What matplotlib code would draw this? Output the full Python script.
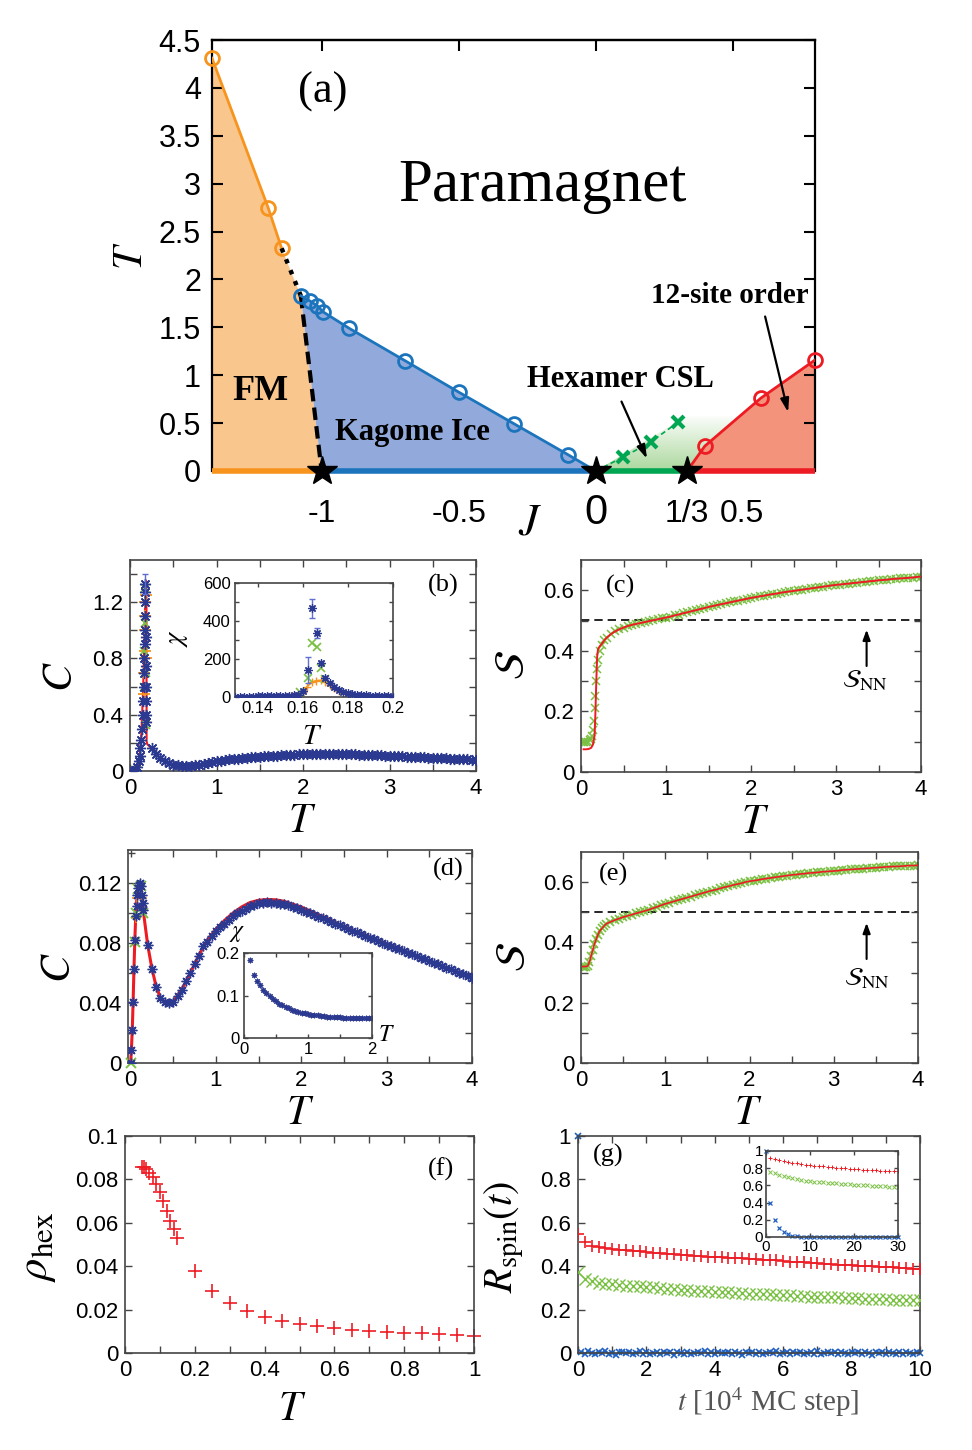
import numpy as np
import matplotlib
matplotlib.use('Agg')
import matplotlib.pyplot as plt
from matplotlib.patches import Polygon
from matplotlib.colors import to_rgb
import matplotlib.transforms as mtransforms

plt.rcParams['font.family'] = ['Liberation Sans', 'DejaVu Sans']
plt.rcParams['mathtext.fontset'] = 'stix'
SERIF = ['Liberation Serif', 'DejaVu Serif']

# ---------------- data: panel (a) phase diagram ----------------
J_fm = [-1.40, -1.195, -1.146]
T_fm = [4.31, 2.748, 2.325]
J_ki = [-1.076, -1.044, -1.016, -0.995, -0.899, -0.696, -0.499, -0.298, -0.101]
T_ki = [1.829, 1.777, 1.725, 1.662, 1.489, 1.152, 0.822, 0.493, 0.170]
J_hex = [0.101, 0.200, 0.301]
T_hex = [0.146, 0.302, 0.510]
J_12 = [0.398, 0.602, 0.800]
T_12 = [0.260, 0.760, 1.159]
J_star = [-1.0, 0.0, 1.0 / 3.0]
J_ticks = [-1, -0.5, 0, 1.0 / 3.0, 0.5]
J_ticklabels = ['-1', '-0.5', '0', '1/3', '0.5']

# ---------------- data: panel (b) specific heat ----------------
Tb_lo = [0.02, 0.04, 0.06, 0.08, 0.10, 0.11, 0.12, 0.13, 0.14, 0.15, 0.155, 0.16, 0.165, 0.165,
         0.17, 0.17, 0.17, 0.175, 0.175, 0.175, 0.18, 0.18, 0.18, 0.185, 0.185, 0.19]
Cb_lo = [0.0, 0.0, 0.005, 0.03, 0.07, 0.11, 0.16, 0.22, 0.30, 0.40, 0.50, 0.60, 0.70, 0.80,
         0.90, 1.00, 1.10, 1.20, 1.27, 1.33, 0.95, 0.75, 0.60, 0.50, 0.40, 0.35]
Tb_hi = np.round(np.arange(0.25, 4.001, 0.05), 2)
Cb_hi = [0.160, 0.120, 0.090, 0.068, 0.054, 0.046, 0.041, 0.039, 0.038, 0.039, 0.041, 0.044, 0.050,
         0.057, 0.064, 0.070,
         0.074, 0.078, 0.082, 0.085, 0.088, 0.091, 0.094, 0.097, 0.099, 0.101,
         0.104, 0.106, 0.108, 0.110, 0.112, 0.114, 0.115, 0.117, 0.118, 0.119,
         0.120, 0.121, 0.121, 0.122, 0.122, 0.122, 0.122, 0.121, 0.121, 0.120,
         0.119, 0.118, 0.117, 0.116, 0.115, 0.114, 0.113, 0.111, 0.110, 0.109,
         0.107, 0.106, 0.104, 0.103, 0.101, 0.100, 0.098, 0.097, 0.095, 0.094,
         0.093, 0.091, 0.090, 0.088, 0.087, 0.085, 0.084, 0.082, 0.081, 0.080]
Tb_red_lo = [0.06, 0.09, 0.11, 0.13, 0.15, 0.165, 0.175, 0.185, 0.19, 0.192, 0.20]
Cb_red_lo = [0.0, 0.03, 0.10, 0.25, 0.55, 0.90, 1.20, 1.35, 1.35, 0.21, 0.19]
Tb_or = [0.16, 0.165, 0.17, 0.17, 0.175, 0.175, 0.18, 0.18]
Cb_or = [0.55, 0.70, 0.85, 1.00, 1.10, 1.20, 1.25, 0.80]
Tb_gr = [0.0, 0.02, 0.04, 0.06, 0.08, 0.16, 0.165, 0.17, 0.175, 0.18, 0.185]
Cb_gr = [0.0, 0.0, 0.0, 0.0, 0.01, 0.60, 0.85, 1.05, 1.30, 0.70, 0.33]
Tb_peak, Cb_peak, Cb_peak_err = 0.175, 1.33, 0.07

# inset (b): susceptibility
Tbi_blue = [0.130, 0.132, 0.134, 0.136, 0.138, 0.140, 0.142, 0.144, 0.146, 0.148, 0.150, 0.152,
            0.154, 0.156, 0.158, 0.160, 0.1622, 0.164, 0.1663, 0.168, 0.170, 0.172, 0.174, 0.176,
            0.178, 0.180, 0.182, 0.184, 0.186, 0.188, 0.190, 0.192, 0.194, 0.196, 0.198, 0.200]
Xbi_blue = [2, 2, 2, 2, 2, 3, 3, 3, 3, 4, 4, 5, 6, 8, 12, 32, 142, 468, 338, 179, 102, 72, 52, 38,
            28, 21, 16, 12, 10, 8, 6, 5, 4, 3, 3, 2]
Xbi_blue_err = [0, 0, 0, 0, 0, 0, 0, 0, 0, 0, 0, 0, 0, 1, 2, 6, 70, 50, 25, 12, 8, 5, 3, 2,
                2, 1, 1, 1, 0, 0, 0, 0, 0, 0, 0, 0]
Tbi_gr = [0.159, 0.1622, 0.164, 0.1663, 0.168, 0.170]
Xbi_gr = [25, 100, 284, 265, 153, 95]
Tbi_or = [0.154, 0.156, 0.158, 0.160, 0.162, 0.164, 0.166, 0.168, 0.170, 0.172, 0.174, 0.176, 0.178]
Xbi_or = [3, 5, 10, 25, 55, 78, 86, 87, 80, 62, 45, 32, 22]

# ---------------- data: panel (c) entropy ----------------
Tc_gr_lo = [0.02, 0.04, 0.06, 0.08, 0.10, 0.12, 0.13, 0.14, 0.15, 0.16, 0.17, 0.18, 0.19, 0.20,
            0.22, 0.25, 0.275]
Sc_gr_lo = [0.100, 0.100, 0.100, 0.100, 0.105, 0.110, 0.120, 0.140, 0.170, 0.210, 0.250, 0.300,
            0.340, 0.370, 0.400, 0.420, 0.435]
Tc_red_lo = [0.03, 0.06, 0.09, 0.12, 0.14, 0.16, 0.17, 0.18, 0.19, 0.20, 0.22, 0.25, 0.275]
Sc_red_lo = [0.075, 0.075, 0.076, 0.080, 0.090, 0.120, 0.200, 0.300, 0.380, 0.405, 0.415, 0.425, 0.435]
Tc_hi = np.round(np.arange(0.30, 4.001, 0.05), 2)
Sc_hi = [0.443, 0.455, 0.464, 0.471, 0.477, 0.482, 0.486, 0.489, 0.492, 0.495, 0.498, 0.501, 0.504,
         0.507, 0.510,
         0.513, 0.517, 0.520, 0.524, 0.527, 0.531, 0.534, 0.538, 0.541, 0.545,
         0.548, 0.551, 0.554, 0.557, 0.560, 0.563, 0.566, 0.569, 0.572, 0.575,
         0.577, 0.580, 0.582, 0.585, 0.587, 0.589, 0.592, 0.594, 0.596, 0.598,
         0.600, 0.602, 0.604, 0.606, 0.608, 0.610, 0.612, 0.614, 0.616, 0.618,
         0.619, 0.621, 0.622, 0.624, 0.625, 0.627, 0.628, 0.630, 0.631, 0.633,
         0.634, 0.635, 0.637, 0.638, 0.639, 0.640, 0.641, 0.642, 0.644, 0.645]
S_NN = 0.502

# ---------------- data: panel (d) specific heat ----------------
Td_lo = [0.0, 0.01, 0.02, 0.03, 0.04, 0.05, 0.06, 0.07, 0.08, 0.09, 0.10, 0.11, 0.12, 0.13, 0.14, 0.15,
         0.20, 0.25, 0.30, 0.35, 0.40, 0.45, 0.50, 0.55, 0.60, 0.65, 0.70, 0.75, 0.80, 0.85]
Cd_lo = [0.0, 0.009, 0.022, 0.041, 0.063, 0.082, 0.098, 0.105, 0.112, 0.117, 0.119, 0.120, 0.118,
         0.112, 0.107, 0.102,
         0.079, 0.063, 0.051, 0.0435, 0.0405, 0.040, 0.041, 0.0444, 0.049, 0.0544, 0.060, 0.066,
         0.0715, 0.0778]
Td_hi = np.round(np.arange(0.90, 4.001, 0.05), 2)
Cd_hi = [0.081, 0.085, 0.088,
         0.0905, 0.093, 0.0955, 0.098, 0.100, 0.1015, 0.103, 0.1045, 0.1055, 0.1065,
         0.107, 0.1072, 0.107, 0.1067, 0.1063, 0.1058, 0.1052, 0.1043, 0.1032, 0.1020,
         0.1009, 0.0998, 0.0987, 0.0976, 0.0965, 0.0953, 0.0942, 0.0930, 0.0918, 0.0907,
         0.0895, 0.0883, 0.0871, 0.0860, 0.0848, 0.0836, 0.0825, 0.0813, 0.0802, 0.0790,
         0.0779, 0.0768, 0.0757, 0.0746, 0.0735, 0.0724, 0.0713, 0.0702, 0.0691, 0.0680,
         0.0669, 0.0658, 0.0647, 0.0636, 0.0625, 0.0614, 0.0603, 0.0592, 0.0581, 0.0570]
Td_red = [0.0, 0.01, 0.02, 0.03, 0.04, 0.05, 0.06, 0.07, 0.08, 0.09, 0.10, 0.11, 0.12, 0.13, 0.14,
          0.15, 0.175, 0.20, 0.25, 0.30, 0.35, 0.40, 0.45, 0.50, 0.60, 0.70, 0.80, 0.90, 1.00, 1.10,
          1.20, 1.30, 1.40, 1.50, 1.60, 1.70, 1.80, 2.00, 2.20, 2.50, 3.00, 3.50, 4.00]
Cd_red = [0.0, 0.009, 0.022, 0.041, 0.063, 0.082, 0.097, 0.107, 0.113, 0.117, 0.119, 0.119, 0.117,
          0.113, 0.107, 0.101, 0.090, 0.079, 0.063, 0.051, 0.0435, 0.0405, 0.040, 0.041, 0.049,
          0.060, 0.072, 0.082, 0.089, 0.095, 0.100, 0.104, 0.107, 0.1085, 0.109, 0.1088, 0.1078,
          0.104, 0.099, 0.091, 0.0795, 0.068, 0.057]
Td_gr = [0.0, 0.05, 0.06, 0.09, 0.12, 0.14]
Cd_gr = [0.0, 0.081, 0.100, 0.116, 0.118, 0.100]
Td_or = [0.06, 0.08, 0.10, 0.13]
Cd_or = [0.097, 0.110, 0.118, 0.110]
# inset (d)
Tdi = [0.09, 0.15, 0.20, 0.25, 0.30, 0.35, 0.40, 0.45, 0.50, 0.55, 0.60, 0.65, 0.70, 0.75, 0.80,
       0.85, 0.90, 0.95, 1.00, 1.05, 1.10, 1.15, 1.20, 1.25, 1.30, 1.35, 1.40, 1.45, 1.50, 1.55,
       1.60, 1.65, 1.70, 1.75, 1.80, 1.85, 1.90, 1.95, 2.00]
Xdi = [0.184, 0.148, 0.134, 0.124, 0.114, 0.105, 0.098, 0.091, 0.086, 0.081, 0.077, 0.073, 0.070,
       0.067, 0.064, 0.062, 0.060, 0.058, 0.0565, 0.055, 0.054, 0.053, 0.052, 0.051, 0.0505, 0.050,
       0.0495, 0.049, 0.0485, 0.048, 0.0475, 0.047, 0.0468, 0.0466, 0.0464, 0.0462, 0.046, 0.046,
       0.046]

# ---------------- data: panel (e) entropy ----------------
Te_lo = [0.02, 0.04, 0.06, 0.08, 0.10, 0.12, 0.14, 0.16, 0.18, 0.20, 0.22, 0.25, 0.275]
Se_lo = [0.320, 0.320, 0.320, 0.322, 0.335, 0.355, 0.375, 0.395, 0.410, 0.425, 0.437, 0.447, 0.455]
Te_hi = np.round(np.arange(0.30, 4.001, 0.05), 2)
Se_hi = [0.462, 0.468, 0.474, 0.479, 0.484, 0.488, 0.492, 0.496, 0.500, 0.504, 0.508, 0.513, 0.518,
         0.523, 0.528,
         0.532, 0.536, 0.540, 0.544, 0.548, 0.552, 0.556, 0.560, 0.564, 0.568,
         0.572, 0.575, 0.579, 0.583, 0.586, 0.590, 0.593, 0.596, 0.600, 0.603,
         0.605, 0.607, 0.610, 0.612, 0.614, 0.616, 0.618, 0.620, 0.622, 0.624,
         0.625, 0.627, 0.628, 0.630, 0.631, 0.632, 0.634, 0.635, 0.636, 0.637,
         0.638, 0.640, 0.641, 0.642, 0.643, 0.644, 0.645, 0.646, 0.647, 0.648,
         0.649, 0.650, 0.651, 0.652, 0.652, 0.653, 0.654, 0.655, 0.655, 0.656]

# ---------------- data: panel (f) hexamer density ----------------
T_f = [0.05, 0.055, 0.06, 0.07, 0.08, 0.09, 0.10, 0.11, 0.12, 0.13, 0.14, 0.15, 0.20, 0.25, 0.30,
       0.35, 0.40, 0.45, 0.50, 0.55, 0.60, 0.65, 0.70, 0.75, 0.80, 0.85, 0.90, 0.95, 1.00]
rho_f = [0.0858, 0.0855, 0.0846, 0.083, 0.081, 0.078, 0.074, 0.070, 0.0655, 0.061, 0.057, 0.0528,
         0.0378, 0.0286, 0.0231, 0.0194, 0.0168, 0.0149, 0.0135, 0.0123, 0.0115, 0.0108, 0.0102,
         0.0099, 0.0094, 0.0091, 0.0086, 0.0082, 0.0079]

# ---------------- data: panel (g) autocorrelation ----------------
t_g = np.round(np.arange(0, 10.001, 0.2), 1)
R_red = [0.550, 0.510, 0.495, 0.487, 0.482, 0.478, 0.476, 0.474, 0.471, 0.469,
         0.466, 0.463, 0.461, 0.458, 0.455, 0.452, 0.450, 0.449, 0.446, 0.444,
         0.443, 0.441, 0.438, 0.437, 0.437, 0.435, 0.432, 0.430, 0.428, 0.428,
         0.425, 0.421, 0.419, 0.419, 0.417, 0.415, 0.411, 0.408, 0.407, 0.406,
         0.404, 0.402, 0.400, 0.399, 0.398, 0.397, 0.395, 0.393, 0.391, 0.389,
         0.386]
R_green = [0.374, 0.343, 0.330, 0.322, 0.318, 0.316, 0.314, 0.311, 0.308, 0.307,
           0.305, 0.302, 0.300, 0.297, 0.295, 0.292, 0.290, 0.288, 0.286, 0.284,
           0.282, 0.281, 0.279, 0.278, 0.276, 0.274, 0.273, 0.271, 0.270, 0.268,
           0.266, 0.265, 0.263, 0.262, 0.260, 0.258, 0.257, 0.257, 0.256, 0.255,
           0.254, 0.252, 0.251, 0.250, 0.249, 0.248, 0.246, 0.245, 0.244, 0.244,
           0.243]
t_gb = np.round(np.arange(0, 10.001, 0.1), 1)
R_blue = [1.0,
          0.005, -0.003, 0.007, 0.001, -0.006, 0.004, -0.002, 0.008, -0.004, 0.002,
          -0.007, 0.003, 0.006, -0.001, 0.004, -0.005, 0.001, 0.007, -0.003, 0.005,
          -0.006, 0.002, 0.004, -0.004, 0.006, -0.002, 0.003, -0.007, 0.005, 0.001,
          -0.003, 0.006, -0.005, 0.002, 0.004, -0.001, 0.007, -0.004, 0.003, -0.006,
          0.005, 0.001, -0.002, 0.006, -0.005, 0.003, 0.002, -0.007, 0.004, -0.001,
          0.006, -0.003, 0.005, -0.006, 0.002, 0.004, -0.002, 0.007, -0.005, 0.001,
          0.003, -0.004, 0.006, -0.001, 0.005, -0.006, 0.002, 0.004, -0.003, 0.007,
          -0.005, 0.001, 0.006, -0.002, 0.003, -0.006, 0.005, 0.002, -0.004, 0.004,
          -0.001, 0.006, -0.005, 0.003, 0.001, -0.007, 0.005, -0.002, 0.004, -0.004,
          0.006, 0.002, -0.003, 0.005, -0.006, 0.003, 0.001, -0.004, 0.006, -0.002]
t_in = list(range(1, 31))
Ri_red = [0.920, 0.905, 0.893, 0.882, 0.872, 0.864, 0.856, 0.849, 0.842, 0.836,
          0.830, 0.825, 0.820, 0.815, 0.810, 0.806, 0.802, 0.798, 0.794, 0.790,
          0.787, 0.784, 0.781, 0.778, 0.775, 0.772, 0.769, 0.767, 0.764, 0.762]
Ri_green = [0.760, 0.740, 0.720, 0.705, 0.693, 0.683, 0.673, 0.664, 0.655, 0.647,
            0.643, 0.639, 0.635, 0.631, 0.627, 0.623, 0.620, 0.616, 0.613, 0.610,
            0.607, 0.604, 0.601, 0.598, 0.595, 0.592, 0.589, 0.586, 0.583, 0.580]
t_in_b = list(range(0, 31))
Ri_blue = [1.0, 0.39, 0.20, 0.11, 0.06, 0.03, 0.015, 0.008, 0.004, 0.002, 0.001,
           0.0, 0.0, 0.0, 0.0, 0.0, 0.0, 0.0, 0.0, 0.0, 0.0,
           0.0, 0.0, 0.0, 0.0, 0.0, 0.0, 0.0, 0.0, 0.0, 0.0]

# ---------------- colours ----------------
OR_L, OR_F = '#F7941D', '#F9C68E'
BL_L, BL_F = '#1C75BC', '#91AADB'
GR_L, GR_F = '#00A651', '#8FCB7C'
RD_L, RD_F = '#ED1C24', '#F4937B'
NAVY = '#2B3990'
LGREEN = '#7AC143'
ORANGE = '#F7941D'
RED = '#ED1C24'
GBLUE = '#1F5FBF'
SPINE = '#444444'
TFS = 16   # tick label size of the small panels
XLY = -0.235  # vertical position of the T labels of the small panels

W, H = 972, 1450
fig = plt.figure(figsize=(W / 100, H / 100), dpi=100)


def box(l, t, r, b):
    return [l / W, 1 - b / H, (r - l) / W, (b - t) / H]


def style(ax, xt, xl, yt, yl, fs=TFS, tl=5):
    ax.set_xticks(xt)
    ax.set_xticklabels(xl)
    ax.set_yticks(yt)
    ax.set_yticklabels(yl)
    ax.tick_params(direction='in', top=True, right=True, length=tl, width=1,
                   labelsize=fs, pad=5, color=SPINE)
    for s in ax.spines.values():
        s.set_color(SPINE)
        s.set_linewidth(1.2)


def lab(vals, every, fmt):
    out = []
    for i, v in enumerate(vals):
        out.append(fmt(v) if i % every == 0 else '')
    return out


def g(v):
    return ('%g' % v)


ARROW = dict(arrowstyle='-|>,head_length=0.6,head_width=0.22', color='k', lw=1.5,
             shrinkA=0, shrinkB=0)

# ================= panel (a) =================
ax = fig.add_axes(box(212, 40, 815, 471))
ax.set_xlim(-1.40, 0.80)
ax.set_ylim(0, 4.5)

fm_poly = [(J_fm[0], 0)] + list(zip(J_fm, T_fm)) + [(J_ki[0], T_ki[0]), (J_star[0], 0)]
ax.add_patch(Polygon(fm_poly, closed=True, fc=OR_F, ec='none', zorder=1))
ki_poly = [(J_star[0], 0)] + list(zip(J_ki, T_ki)) + [(J_star[1], 0)]
ax.add_patch(Polygon(ki_poly, closed=True, fc=BL_F, ec='none', zorder=1))

# green fading region for hexamer CSL
grad = np.zeros((100, 2, 4))
grad[..., :3] = to_rgb(GR_F)
grad[..., 3] = np.linspace(0.75, 0.0, 100)[:, None]
im = ax.imshow(grad, extent=[0.0, 0.5, 0.0, 0.6], origin='lower', aspect='auto',
               interpolation='bilinear', zorder=1)
clip = Polygon([(0, 0), (0.33, 0.57), (0.5, 0.57), (0.5, 0)], closed=True,
               transform=ax.transData, fc='none', ec='none')
im.set_clip_path(clip)

rd_poly = [(J_star[2], 0)] + list(zip(J_12, T_12)) + [(J_12[-1], 0)]
ax.add_patch(Polygon(rd_poly, closed=True, fc=RD_F, ec='none', zorder=1.5))

ax.set_xlim(-1.40, 0.80)
ax.set_ylim(0, 4.5)

ax.plot(J_fm, T_fm, '-', color=OR_L, lw=2, zorder=3)
ax.plot(J_fm, T_fm, 'o', mfc='none', mec=OR_L, ms=10, mew=2, zorder=4, clip_on=False)
ax.plot([J_fm[-1], J_ki[0]], [T_fm[-1], T_ki[0]], ':', color='k', lw=3.2, zorder=3)
ax.plot([J_ki[0], J_star[0]], [T_ki[0], 0], '--', color='k', lw=3, dashes=(3, 1.5), zorder=3)
ax.plot(J_ki + [J_star[1]], T_ki + [0], '-', color=BL_L, lw=2, zorder=3)
ax.plot(J_ki, T_ki, 'o', mfc='none', mec=BL_L, ms=10, mew=2, zorder=4)
ax.plot([J_star[1]] + J_hex, [0] + T_hex, '--', color=GR_L, lw=1.2, dashes=(3, 2), zorder=3)
ax.plot(J_hex, T_hex, 'x', color=GR_L, ms=9, mew=3, zorder=4)
ax.plot([J_star[2]] + J_12, [0] + T_12, '-', color=RD_L, lw=2, zorder=3)
ax.plot(J_12, T_12, 'o', mfc='none', mec=RD_L, ms=10, mew=2, zorder=4, clip_on=False)

# coloured baseline
ax.plot([-1.40, J_star[0]], [0, 0], color=OR_L, lw=4, zorder=5, clip_on=False, solid_capstyle='butt')
ax.plot([J_star[0], J_star[1]], [0, 0], color=BL_L, lw=4, zorder=5, clip_on=False, solid_capstyle='butt')
ax.plot([J_star[1], J_star[2]], [0, 0], color=GR_L, lw=4, zorder=5, clip_on=False, solid_capstyle='butt')
ax.plot([J_star[2], 0.80], [0, 0], color=RD_L, lw=4, zorder=5, clip_on=False, solid_capstyle='butt')
ax.plot(J_star, [0, 0, 0], '*', color='k', ms=22, zorder=6, clip_on=False)

ax.spines['bottom'].set_visible(False)
for s in ['top', 'left', 'right']:
    ax.spines[s].set_linewidth(1.6)
ax.set_yticks(np.arange(0, 4.51, 0.5))
ax.set_yticklabels([g(v) for v in np.arange(0, 4.51, 0.5)])
ax.set_xticks(J_ticks)
ax.set_xticklabels(J_ticklabels)
ax.tick_params(axis='y', direction='in', right=True, length=8, width=1.5, labelsize=22, pad=8)
ax.tick_params(axis='x', direction='in', length=0, labelsize=23, pad=20)
for t in ax.get_xticklabels():
    if t.get_text() == '0':
        t.set_fontsize(30)
        t.set_transform(t.get_transform() + mtransforms.ScaledTranslation(0, 4 / 72, fig.dpi_scale_trans))
    if t.get_text() == '0.5':
        t.set_transform(t.get_transform() + mtransforms.ScaledTranslation(9 / 100, 0, fig.dpi_scale_trans))
sec = ax.secondary_xaxis('top')
sec.set_xticks([-1, -0.5, 0, 0.5])
sec.tick_params(direction='in', length=8, width=1.5, labeltop=False)
sec.spines['top'].set_linewidth(1.6)

ax.set_ylabel(r'$T$', fontsize=30, rotation=90)
ax.yaxis.set_label_coords(-0.135, 0.50)
ax.yaxis.label.set_va('center')
ax.set_xlabel(r'$J$', fontsize=32)
ax.xaxis.set_label_coords(0.527, -0.12)
ax.xaxis.label.set_va('center')

ax.text(-0.996, 3.96, '(a)', fontsize=32, family=SERIF, ha='center', va='center')
ax.text(-0.195, 2.97, 'Paramagnet', fontsize=44, family=SERIF, ha='center', va='center')
ax.text(-1.223, 0.83, 'FM', fontsize=26, family=SERIF, weight='bold', ha='center', va='center')
ax.text(-0.667, 0.40, 'Kagome Ice', fontsize=22, family=SERIF, weight='bold', ha='center', va='center', zorder=7)
ax.text(0.089, 0.96, 'Hexamer CSL', fontsize=22, family=SERIF, weight='bold', ha='center', va='center')
ax.text(0.488, 1.83, '12-site order', fontsize=21, family=SERIF, weight='bold', ha='center', va='center')
ax.annotate('', xy=(0.187, 0.128), xytext=(0.094, 0.725),
            arrowprops=dict(arrowstyle='-|>,head_length=0.8,head_width=0.25', color='k', lw=1.6,
                            shrinkA=0, shrinkB=0), zorder=8)
ax.annotate('', xy=(0.702, 0.614), xytext=(0.618, 1.613),
            arrowprops=dict(arrowstyle='-|>,head_length=0.8,head_width=0.25', color='k', lw=1.6,
                            shrinkA=0, shrinkB=0), zorder=8)

AST = (8, 2, 0)

# ================= panel (b) =================
axb = fig.add_axes(box(130, 560, 476, 771))
axb.plot(list(Tb_red_lo) + list(Tb_hi), list(Cb_red_lo) + list(Cb_hi), color=RED, lw=1.5, zorder=2)
axb.plot(Tb_or, Cb_or, '+', color=ORANGE, ms=8, mew=1.3, zorder=3)
axb.plot(Tb_gr, Cb_gr, 'x', color=LGREEN, ms=6, mew=1.3, zorder=3)
axb.plot(list(Tb_lo) + list(Tb_hi), list(Cb_lo) + list(Cb_hi), ls='none', marker=AST,
         color=NAVY, ms=8, mew=1.0, zorder=4)
axb.errorbar([Tb_peak], [Cb_peak], yerr=[Cb_peak_err], fmt='none', ecolor='#5b6bd1', elinewidth=1,
             capsize=2, zorder=4)
axb.set_xlim(0, 4)
axb.set_ylim(0, 1.5)
xt = np.arange(0, 4.01, 0.5)
yt = np.arange(0, 1.41, 0.2)
style(axb, xt, lab(xt, 2, g), yt, lab(yt, 2, g))
axb.set_xlabel(r'$T$', fontsize=30)
axb.xaxis.set_label_coords(0.497, XLY)
axb.xaxis.label.set_va('center')
axb.set_ylabel(r'$C$', fontsize=30)
axb.yaxis.set_label_coords(-0.2, 0.445)
axb.yaxis.label.set_va('center')
axb.text(0.905, 0.88, '(b)', transform=axb.transAxes, fontsize=19, family=SERIF, ha='center', va='center')

# inset (b)
axbi = fig.add_axes(box(235, 583, 393, 697))
axbi.plot(Tbi_or, Xbi_or, '-', color=ORANGE, lw=1.2, zorder=2)
axbi.plot(Tbi_or, Xbi_or, '+', color=ORANGE, ms=6, mew=1.0, zorder=2)
axbi.plot(Tbi_gr, Xbi_gr, 'x', color=LGREEN, ms=6, mew=1.2, zorder=3)
axbi.errorbar(Tbi_blue, Xbi_blue, yerr=Xbi_blue_err, fmt='none', ecolor='#6070d0', elinewidth=1,
              capsize=2, zorder=3)
axbi.plot(Tbi_blue, Xbi_blue, ls='none', marker=AST, color=NAVY, ms=6, mew=0.9, zorder=4)
axbi.set_xlim(0.13, 0.2)
axbi.set_ylim(0, 600)
style(axbi, [0.14, 0.16, 0.18, 0.2], ['0.14', '0.16', '0.18', '0.2'],
      [0, 100, 200, 300, 400, 500, 600], ['0', '', '200', '', '400', '', '600'], fs=12, tl=3)
axbi.tick_params(pad=3)
axbi.set_xlabel(r'$T$', fontsize=21)
axbi.xaxis.set_label_coords(0.49, -0.34)
axbi.xaxis.label.set_va('center')
axbi.set_ylabel(r'$\chi$', fontsize=19)
axbi.yaxis.set_label_coords(-0.36, 0.52)
axbi.yaxis.label.set_va('center')

# ================= panel (c) =================
axc = fig.add_axes(box(581, 560, 921, 772))
axc.axhline(S_NN, ls=(0, (5, 3)), color='k', lw=1.2, zorder=1)
axc.plot(list(Tc_gr_lo) + list(Tc_hi), list(Sc_gr_lo) + list(Sc_hi), 'x', color=LGREEN, ms=6,
         mew=1.1, zorder=2)
axc.plot(list(Tc_red_lo) + list(Tc_hi), list(Sc_red_lo) + list(Sc_hi), '-', color=RED, lw=1.4, zorder=3)
axc.set_xlim(0, 4)
axc.set_ylim(0, 0.7)
xt = np.arange(0, 4.01, 0.5)
yt = np.arange(0, 0.61, 0.1)
style(axc, xt, lab(xt, 2, g), yt, lab(yt, 2, g))
axc.annotate('', xy=(3.36, 0.47), xytext=(3.36, 0.35), arrowprops=ARROW)
axc.text(3.34, 0.30, r'$\mathcal{S}_{\rm NN}$', fontsize=19, ha='center', va='center')
axc.set_xlabel(r'$T$', fontsize=30)
axc.xaxis.set_label_coords(0.512, XLY)
axc.xaxis.label.set_va('center')
axc.set_ylabel(r'$\mathcal{S}$', fontsize=30)
axc.yaxis.set_label_coords(-0.2, 0.505)
axc.yaxis.label.set_va('center')
axc.text(0.115, 0.873, '(c)', transform=axc.transAxes, fontsize=19, family=SERIF, ha='center', va='center')

# ================= panel (d) =================
axd = fig.add_axes(box(128, 850, 472, 1063))
axd.plot(Td_red, Cd_red, '-', color=RED, lw=2.2, zorder=2)
axd.plot(Td_or, Cd_or, '+', color=ORANGE, ms=7, mew=1.2, zorder=3)
axd.plot(Td_gr, Cd_gr, 'x', color=LGREEN, ms=7, mew=1.4, zorder=3, clip_on=False)
axd.plot(list(Td_lo) + list(Td_hi), list(Cd_lo) + list(Cd_hi), ls='none', marker=AST,
         color=NAVY, ms=7, mew=1.0, zorder=4)
axd.set_xlim(-0.03, 4)
axd.set_ylim(0, 0.142)
xt = np.arange(0, 4.01, 0.5)
yt = np.arange(0, 0.141, 0.02)
style(axd, xt, lab(xt, 2, g), yt, lab(yt, 2, g))
axd.set_xlabel(r'$T$', fontsize=30)
axd.xaxis.set_label_coords(0.5, XLY)
axd.xaxis.label.set_va('center')
axd.set_ylabel(r'$C$', fontsize=30)
axd.yaxis.set_label_coords(-0.2, 0.446)
axd.yaxis.label.set_va('center')
axd.text(0.93, 0.907, '(d)', transform=axd.transAxes, fontsize=19, family=SERIF, ha='center', va='center')

axdi = fig.add_axes(box(244, 953, 372, 1038))
axdi.plot(Tdi, Xdi, ls='none', marker=AST, color=NAVY, ms=4, mew=0.8)
axdi.set_xlim(0, 2)
axdi.set_ylim(0, 0.2)
style(axdi, [0, 0.5, 1, 1.5, 2], ['0', '', '1', '', '2'], [0, 0.1, 0.2], ['0', '0.1', '0.2'], fs=12, tl=3)
axdi.tick_params(pad=3)
axdi.text(-0.05, 1.24, r'$\chi$', transform=axdi.transAxes, fontsize=17, ha='center', va='center')
axdi.text(1.11, 0.03, r'$T$', transform=axdi.transAxes, fontsize=17, ha='center', va='center')

# ================= panel (e) =================
axe = fig.add_axes(box(581, 852, 918, 1063))
axe.axhline(S_NN, ls=(0, (5, 3)), color='k', lw=1.2, zorder=1)
axe.plot(list(Te_lo) + list(Te_hi), list(Se_lo) + list(Se_hi), 'x', color=LGREEN, ms=6, mew=1.2, zorder=2)
axe.plot(list(Te_lo) + list(Te_hi), list(Se_lo) + list(Se_hi), '-', color=RED, lw=1.2, zorder=3)
axe.set_xlim(0, 4)
axe.set_ylim(0, 0.7)
xt = np.arange(0, 4.01, 0.5)
yt = np.arange(0, 0.61, 0.1)
style(axe, xt, lab(xt, 2, g), yt, lab(yt, 2, g))
axe.annotate('', xy=(3.39, 0.465), xytext=(3.39, 0.345), arrowprops=ARROW)
axe.text(3.39, 0.28, r'$\mathcal{S}_{\rm NN}$', fontsize=19, ha='center', va='center')
axe.set_xlabel(r'$T$', fontsize=30)
axe.xaxis.set_label_coords(0.496, XLY)
axe.xaxis.label.set_va('center')
axe.set_ylabel(r'$\mathcal{S}$', fontsize=30)
axe.yaxis.set_label_coords(-0.2, 0.5)
axe.yaxis.label.set_va('center')
axe.text(0.096, 0.892, '(e)', transform=axe.transAxes, fontsize=19, family=SERIF, ha='center', va='center')

# ================= panel (f) =================
axf = fig.add_axes(box(125, 1136, 474, 1353))
axf.plot(T_f, rho_f, '+', color=RED, ms=10, mew=1.2, clip_on=False)
axf.set_xlim(0, 1)
axf.set_ylim(0, 0.1)
xt = np.arange(0, 1.001, 0.1)
yt = np.arange(0, 0.1001, 0.02)
style(axf, xt, lab(xt, 2, g), yt, [g(round(v, 2)) for v in yt])
axf.set_xlabel(r'$T$', fontsize=30)
axf.xaxis.set_label_coords(0.478, -0.26)
axf.xaxis.label.set_va('center')
axf.set_ylabel(r'$\rho_{\rm hex}$', fontsize=32)
axf.yaxis.set_label_coords(-0.25, 0.49)
axf.yaxis.label.set_va('center')
axf.text(0.905, 0.846, '(f)', transform=axf.transAxes, fontsize=19, family=SERIF, ha='center', va='center')

# ================= panel (g) =================
axg = fig.add_axes(box(578, 1136, 920, 1353))
axg.plot(t_gb, R_blue, 'x', color=GBLUE, ms=5, mew=1.2, clip_on=False, zorder=2)
axg.plot(t_g, R_green, 'x', color=LGREEN, ms=8, mew=1.0, zorder=3)
axg.plot(t_g, R_red, '+', color=RED, ms=9, mew=1.2, zorder=4)
axg.set_xlim(0, 10)
axg.set_ylim(0, 1)
xt = np.arange(0, 10.01, 1)
yt = np.arange(0, 1.001, 0.2)
style(axg, xt, lab(xt, 2, g), yt, [g(round(v, 1)) for v in yt])
axg.set_xlabel(r'$t$ [10$^4$ MC step]', fontsize=21, color='#555555', family=SERIF)
axg.xaxis.set_label_coords(0.557, -0.225)
axg.xaxis.label.set_va('center')
axg.set_ylabel(r'$R_{\rm spin}(t)$', fontsize=29)
axg.yaxis.set_label_coords(-0.215, 0.535)
axg.yaxis.label.set_va('center')
axg.text(0.089, 0.912, '(g)', transform=axg.transAxes, fontsize=19, family=SERIF, ha='center', va='center')

axgi = fig.add_axes(box(766, 1151, 898, 1237))
axgi.plot(t_in, Ri_red, '+', color=RED, ms=3, mew=0.7)
axgi.plot(t_in, Ri_green, 'x', color=LGREEN, ms=3, mew=0.7)
axgi.plot(t_in_b, Ri_blue, 'x', color=GBLUE, ms=3, mew=0.9, clip_on=False)
axgi.set_xlim(0, 30)
axgi.set_ylim(0, 1)
style(axgi, [0, 10, 20, 30], ['0', '10', '20', '30'], np.arange(0, 1.001, 0.2),
      ['0', '0.2', '0.4', '0.6', '0.8', '1'], fs=11, tl=3)
axgi.tick_params(pad=2)

fig.savefig('out.png', dpi=100)
